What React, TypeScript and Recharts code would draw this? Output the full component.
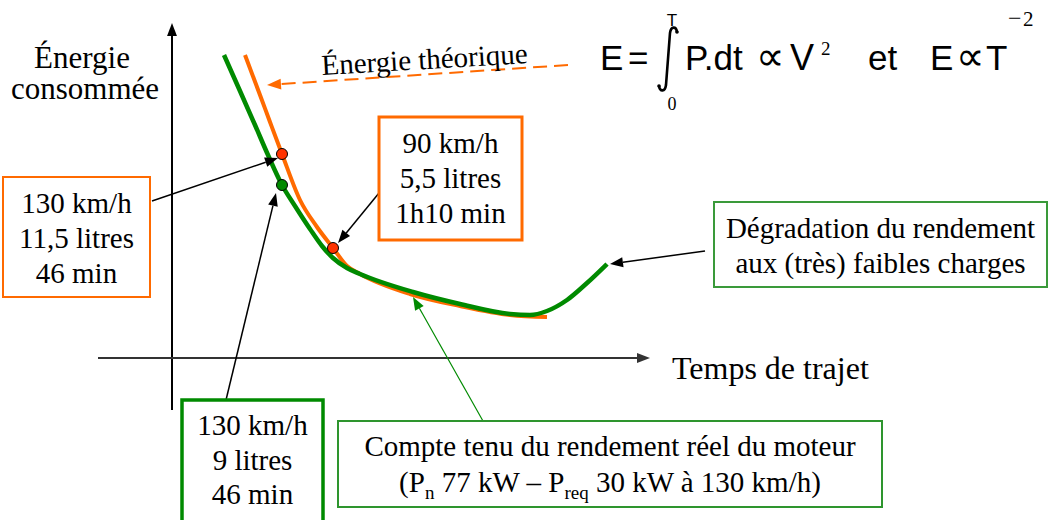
import React from "react";
import { LineChart, Line, XAxis, YAxis, ReferenceLine, ReferenceDot } from "recharts";

// travel time (t) vs consumed energy (e), measured from the axes origin
const theoretical = [
  { t: 73, e: 303 }, { t: 88, e: 263 }, { t: 98, e: 236 }, { t: 110, e: 204 },
  { t: 128, e: 158 }, { t: 145, e: 131 }, { t: 161, e: 110 }, { t: 175, e: 92 },
  { t: 188, e: 84 }, { t: 238, e: 64 }, { t: 288, e: 52 }, { t: 338, e: 43 },
  { t: 375, e: 41 },
];

const real = [
  { t: 52, e: 303 }, { t: 68, e: 267 }, { t: 83, e: 233 }, { t: 96, e: 203 },
  { t: 110, e: 173 }, { t: 123, e: 152 }, { t: 138, e: 129 }, { t: 150, e: 112 },
  { t: 161, e: 100 }, { t: 175, e: 90 }, { t: 188, e: 84 }, { t: 241, e: 66 },
  { t: 288, e: 54 }, { t: 338, e: 44 }, { t: 358, e: 43 }, { t: 375, e: 47 },
  { t: 395, e: 58 }, { t: 415, e: 75 }, { t: 435, e: 94 },
];

const theoreticalPoints = [
  { t: 110, e: 204 }, // 130 km/h
  { t: 161, e: 110 }, // 90 km/h
];
const realPoints = [{ t: 110, e: 173 }]; // 130 km/h

const ORANGE = "#ff6a00";
const GREEN = "#008a00";
const SERIF = "'Liberation Serif', 'Times New Roman', serif";
const SANS = "'Liberation Sans', Arial, sans-serif";

const arrow = (color: string, width: number, head = 12, dash?: string) => (p: any) => {
  const { x1, y1, x2, y2 } = p;
  const a = Math.atan2(y2 - y1, x2 - x1);
  const hw = head * 0.38;
  const bx = x2 - head * Math.cos(a);
  const by = y2 - head * Math.sin(a);
  const pts = `${x2},${y2} ${bx + hw * Math.sin(a)},${by - hw * Math.cos(a)} ${bx - hw * Math.sin(a)},${by + hw * Math.cos(a)}`;
  return (
    <g>
      <line x1={x1} y1={y1} x2={bx} y2={by} stroke={color} strokeWidth={width} strokeDasharray={dash} />
      <polygon points={pts} fill={color} />
    </g>
  );
};

function Box({ x, y, w, h, color, sw, lines, baselines }: any) {
  return (
    <g>
      <rect x={x} y={y} width={w} height={h} fill="#fff" stroke={color} strokeWidth={sw} />
      {lines.map((l: string, i: number) => (
        <text key={i} x={x + w / 2} y={baselines[i]} textAnchor="middle" fontFamily={SERIF} fontSize={29} fill="#000">
          {l}
        </text>
      ))}
    </g>
  );
}

export default function App() {
  return (
    <div style={{ position: "absolute", left: 0, top: 0, width: 1051, height: 520, background: "#fff" }}>
      <LineChart width={1051} height={520} margin={{ top: 0, right: 0, bottom: 0, left: 0 }}>
        <XAxis type="number" dataKey="t" domain={[-172, 879]} hide allowDataOverflow />
        <YAxis type="number" dataKey="e" domain={[-162, 358]} hide allowDataOverflow />
        <ReferenceLine segment={[{ x: 0, y: -52 }, { x: 0, y: 335 }]} shape={arrow("#000", 2, 13)} />
        <ReferenceLine segment={[{ x: -74, y: 0 }, { x: 478, y: 0 }]} shape={arrow("#333", 2, 13)} />
        <Line data={theoretical} dataKey="e" type="monotone" stroke={ORANGE} strokeWidth={4} dot={false} activeDot={false} isAnimationActive={false} />
        <Line data={real} dataKey="e" type="monotone" stroke={GREEN} strokeWidth={4.5} dot={false} activeDot={false} isAnimationActive={false} />
        <ReferenceLine segment={[{ x: 396, y: 293 }, { x: 95, y: 273 }]} shape={arrow(ORANGE, 2, 14, "14 7")} />
        <ReferenceLine segment={[{ x: -20, y: 157 }, { x: 106, y: 200 }]} shape={arrow("#000", 1.5, 13)} />
        <ReferenceLine segment={[{ x: 207, y: 165 }, { x: 166, y: 115 }]} shape={arrow("#000", 1.5, 13)} />
        <ReferenceLine segment={[{ x: 54, y: -42 }, { x: 104, y: 165 }]} shape={arrow("#000", 1.5, 13)} />
        <ReferenceLine segment={[{ x: 311, y: -63 }, { x: 241, y: 61 }]} shape={arrow(GREEN, 1.2, 13)} />
        <ReferenceLine segment={[{ x: 533, y: 107 }, { x: 438, y: 94 }]} shape={arrow("#000", 1.5, 13)} />
        {theoreticalPoints.map((p, i) => (
          <ReferenceDot key={"o" + i} x={p.t} y={p.e} r={5.5} fill="#ff3300" stroke="#000" strokeWidth={1} />
        ))}
        {realPoints.map((p, i) => (
          <ReferenceDot key={"g" + i} x={p.t} y={p.e} r={5.5} fill={GREEN} stroke="#000" strokeWidth={1} />
        ))}
      </LineChart>
      <svg width={1051} height={520} style={{ position: "absolute", left: 0, top: 0, pointerEvents: "none" }}>
        <text x={82} y={68} textAnchor="middle" fontFamily={SERIF} fontSize={31}>Énergie</text>
        <text x={85} y={99} textAnchor="middle" fontFamily={SERIF} fontSize={31}>consommée</text>
        <text x={672} y={379} fontFamily={SERIF} fontSize={32}>Temps de trajet</text>
        <text x={322} y={75} fontFamily={SERIF} fontSize={29} transform="rotate(-3.3 322 75)">Énergie théorique</text>

        <Box x={3} y={177} w={147} h={120} color={ORANGE} sw={2} lines={["130 km/h", "11,5 litres", "46 min"]} baselines={[213, 248, 283]} />
        <Box x={379} y={117} w={143} h={123} color={ORANGE} sw={3} lines={["90 km/h", "5,5 litres", "1h10 min"]} baselines={[153, 188, 223]} />
        <Box x={182} y={400} w={141} h={130} color={GREEN} sw={3.5} lines={["130 km/h", "9 litres", "46 min"]} baselines={[435, 470, 504]} />
        <Box x={714} y={202} w={333} h={85} color="#3a9a3a" sw={2} lines={["Dégradation du rendement", "aux (très) faibles charges"]} baselines={[238, 273]} />

        <rect x={338} y={421} width={544} height={86} fill="#fff" stroke="#2e952e" strokeWidth={2} />
        <text x={610} y={456} textAnchor="middle" fontFamily={SERIF} fontSize={29}>Compte tenu du rendement réel du moteur</text>
        <text x={610} y={492} textAnchor="middle" fontFamily={SERIF} fontSize={29}>
          <tspan>(P</tspan>
          <tspan dy={7} fontSize={19}>n</tspan>
          <tspan dy={-7}> 77 kW – P</tspan>
          <tspan dy={7} fontSize={19}>req</tspan>
          <tspan dy={-7}> 30 kW à 130 km/h)</tspan>
        </text>

        {/* formula */}
        <text x={600} y={70} fontFamily={SANS} fontSize={35}>E</text>
        <text x={628} y={70} fontFamily={SANS} fontSize={35}>=</text>
        <path d="M 677 32 C 676 26, 671 26, 670 33 L 666 85 C 665 92, 660 92, 659 86" fill="none" stroke="#000" strokeWidth={2.6} />
        <circle cx={677} cy={32} r={1.8} />
        <circle cx={659} cy={86} r={1.8} />
        <text x={672} y={26} textAnchor="middle" fontFamily={SANS} fontSize={17}>T</text>
        <text x={672} y={110} textAnchor="middle" fontFamily={SERIF} fontSize={18}>0</text>
        <text x={685} y={70} fontFamily={SANS} fontSize={35}>P.dt</text>
        <text x={756} y={70} fontFamily={SERIF} fontSize={40}>∝</text>
        <text x={790} y={70} fontFamily={SANS} fontSize={36}>V</text>
        <text x={821} y={55} fontFamily={SERIF} fontSize={19}>2</text>
        <text x={868} y={70} fontFamily={SANS} fontSize={35}>et</text>
        <text x={930} y={70} fontFamily={SANS} fontSize={35}>E</text>
        <text x={956} y={70} fontFamily={SERIF} fontSize={40}>∝</text>
        <text x={986} y={70} fontFamily={SANS} fontSize={35}>T</text>
        <text x={1008} y={26} fontFamily={SERIF} fontSize={24}>−</text>
        <text x={1023} y={26} fontFamily={SERIF} fontSize={21}>2</text>
      </svg>
    </div>
  );
}
